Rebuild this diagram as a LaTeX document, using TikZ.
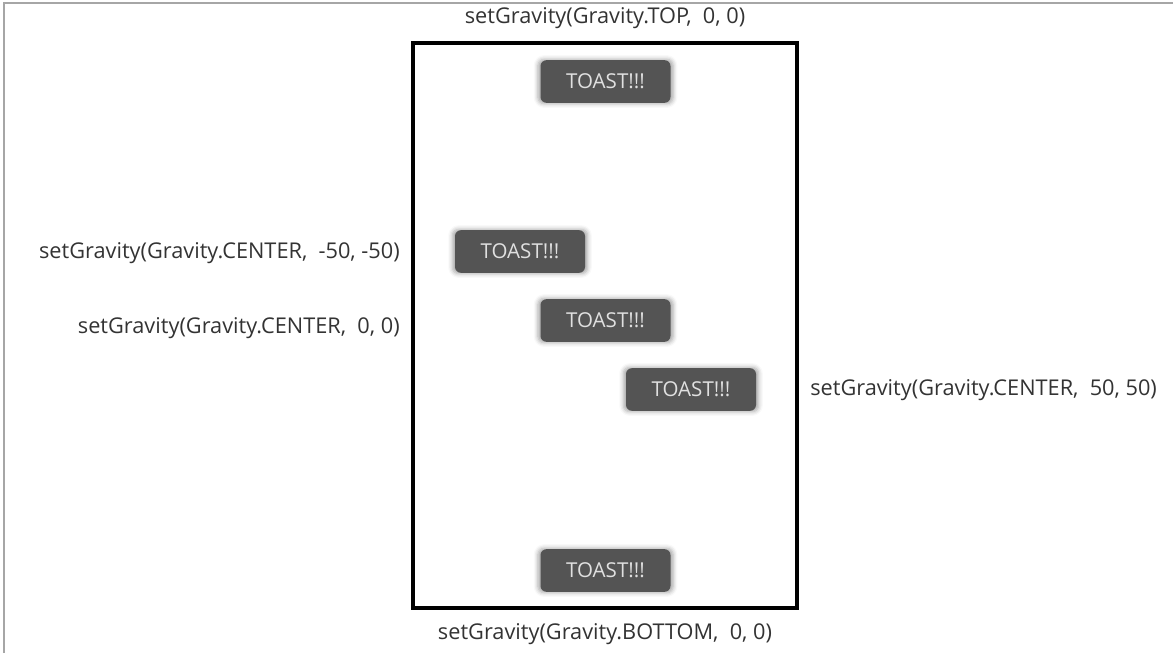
\documentclass[tikz,border=0pt]{standalone}
\usepackage{fontspec}
\setmainfont{Open Sans}
\usetikzlibrary{shadows.blur}
\begin{document}
\begin{tikzpicture}[x=0.75pt,y=-0.75pt,
  lbl/.style={font=\fontsize{16.3pt}{18pt}\selectfont, text=black!80, inner sep=0pt},
  toast/.style={fill=black!67, rounded corners=4.5pt, minimum width=97.5pt, minimum height=32pt,
    inner sep=0pt, text=black!12, font=\fontsize{15.4pt}{17pt}\selectfont,
    blur shadow={shadow xshift=0pt, shadow yshift=0pt, shadow blur radius=3pt, shadow opacity=35, shadow scale=1.04}},
  frame/.style={draw=black, line width=2.3pt}]
\useasboundingbox (0,0) rectangle (1173,653);
\draw[black!35, line width=1.5pt] (4,653) -- (4,3) -- (1173,3);
\node[frame, minimum width=288pt, minimum height=423.75pt, inner sep=0pt] (screen) at (605,325.5) {};
\node[toast] (t1) at (605.5,81.5) {TOAST!!!};
\node[toast] (t2) at (520,251.5) {TOAST!!!};
\node[toast] (t3) at (605.5,320.5) {TOAST!!!};
\node[toast] (t4) at (691,389.5) {TOAST!!!};
\node[toast] (t5) at (605.5,570.5) {TOAST!!!};
\node[lbl] (l1) at (605,18) {setGravity(Gravity.TOP,\ \ 0, 0)};
\node[lbl, anchor=east] (l2) at (400,253) {setGravity(Gravity.CENTER,\ \ -50, -50)};
\node[lbl, anchor=east] (l3) at (400,328) {setGravity(Gravity.CENTER,\ \ 0, 0)};
\node[lbl, anchor=west] (l4) at (810,390) {setGravity(Gravity.CENTER,\ \ 50, 50)};
\node[lbl] (l5) at (605,634) {setGravity(Gravity.BOTTOM,\ \ 0, 0)};
\end{tikzpicture}
\end{document}
